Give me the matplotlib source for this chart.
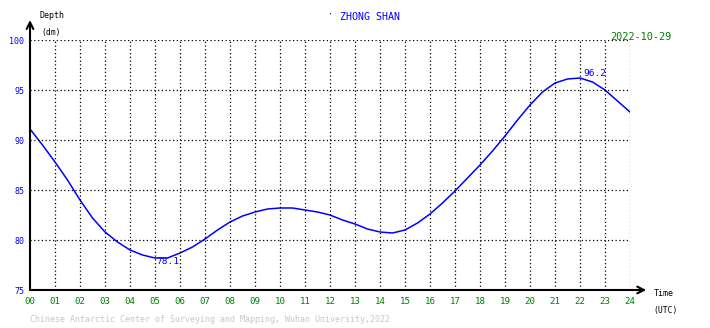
import matplotlib
matplotlib.use("Agg")
import matplotlib.pyplot as plt

# tide depth (dm), every half hour
hours = [0, 0.5, 1, 1.5, 2, 2.5, 3, 3.5, 4, 4.5, 5, 5.5, 6, 6.5, 7, 7.5, 8, 8.5,
         9, 9.5, 10, 10.5, 11, 11.5, 12, 12.5, 13, 13.5, 14, 14.5, 15, 15.5, 16,
         16.5, 17, 17.5, 18, 18.5, 19, 19.5, 20, 20.5, 21, 21.5, 22, 22.5, 23,
         23.5, 24]
depth = [91.1, 89.5, 87.8, 86.0, 84.0, 82.2, 80.8, 79.8, 79.0, 78.5, 78.2, 78.2,
         78.7, 79.3, 80.1, 81.0, 81.8, 82.4, 82.8, 83.1, 83.2, 83.2, 83.0, 82.8,
         82.5, 82.0, 81.6, 81.1, 80.8, 80.7, 81.0, 81.7, 82.6, 83.7, 84.9, 86.2,
         87.5, 88.9, 90.4, 92.0, 93.5, 94.8, 95.7, 96.1, 96.2, 95.8, 95.0, 93.9,
         92.8]
xtick_labels = ["%02d" % h for h in range(25)]
ytick_vals = [75, 80, 85, 90, 95, 100]
low_label = (5.5, 78.1)
high_label = (22.6, 96.2)

mono = "DejaVu Sans Mono"
blue = "#0000ff"
green = "#008000"

fig = plt.figure(figsize=(7.1, 3.28), dpi=100)
ax = fig.add_axes([30 / 710, 38 / 328, 600 / 710, 250 / 328])

ax.plot(hours, depth, color=blue, lw=1.1)
ax.set_xlim(0, 24)
ax.set_ylim(75, 100)

# dotted grid
for h in range(1, 25):
    ax.plot([h, h], [75, 100], color="black", lw=0.9, ls=(0, (1, 2)))
for v in ytick_vals[1:]:
    ax.plot([0, 24], [v, v], color="black", lw=0.9, ls=(0, (1, 2)))

for s in ax.spines.values():
    s.set_visible(False)

ax.set_xticks(range(25))
ax.set_xticklabels(xtick_labels, color=green, fontfamily=mono, fontsize=6.6)
ax.set_yticks(ytick_vals)
ax.set_yticklabels([str(v) for v in ytick_vals], color=blue, fontfamily=mono, fontsize=6.0)
ax.tick_params(length=0)
ax.tick_params(axis="x", pad=5)
ax.tick_params(axis="y", pad=4)

# axis arrows
ax.annotate("", xy=(0, 102), xytext=(0, 75), annotation_clip=False,
            arrowprops=dict(arrowstyle="->", lw=1.5, color="black",
                            shrinkA=0, shrinkB=0, mutation_scale=12))
ax.annotate("", xy=(24.65, 75), xytext=(0, 75), annotation_clip=False,
            arrowprops=dict(arrowstyle="->", lw=1.5, color="black",
                            shrinkA=0, shrinkB=0, mutation_scale=12))

ax.text(0.4, 102.4, "Depth", fontfamily=mono, fontsize=6.0, color="black",
        va="center", ha="left", clip_on=False)
ax.text(0.45, 100.7, "(dm)", fontfamily=mono, fontsize=5.8, color="black",
        va="center", ha="left", clip_on=False)
ax.text(24.96, 74.6, "Time", fontfamily=mono, fontsize=6.0, color="black",
        va="center", ha="left", clip_on=False)
ax.text(24.92, 73.0, "(UTC)", fontfamily=mono, fontsize=5.8, color="black",
        va="center", ha="left", clip_on=False)

ax.text(13.6, 102.3, "ZHONG SHAN", fontfamily=mono, fontsize=7.2, color=blue,
        va="center", ha="center", clip_on=False)
ax.text(12.0, 102.5, "\u00b7", fontfamily=mono, fontsize=6, color=blue,
        va="center", ha="center", clip_on=False)
ax.text(25.65, 100.3, "2022-10-29", fontfamily=mono, fontsize=7.4, color=green,
        va="center", ha="right", clip_on=False)

ax.text(low_label[0], low_label[1] - 0.3, "%.1f" % low_label[1], fontfamily=mono,
        fontsize=6.8, color=blue, ha="center", va="center")
ax.text(high_label[0], high_label[1] + 0.4, "%.1f" % high_label[1], fontfamily=mono,
        fontsize=6.8, color=blue, ha="center", va="center")

ax.text(0, 72.0, "Chinese Antarctic Center of Surveying and Mapping, Wuhan University,2022",
        fontfamily=mono, fontsize=6.0, color="#c8c8c8", ha="left", va="center",
        clip_on=False)

fig.savefig("out.png", dpi=100)
